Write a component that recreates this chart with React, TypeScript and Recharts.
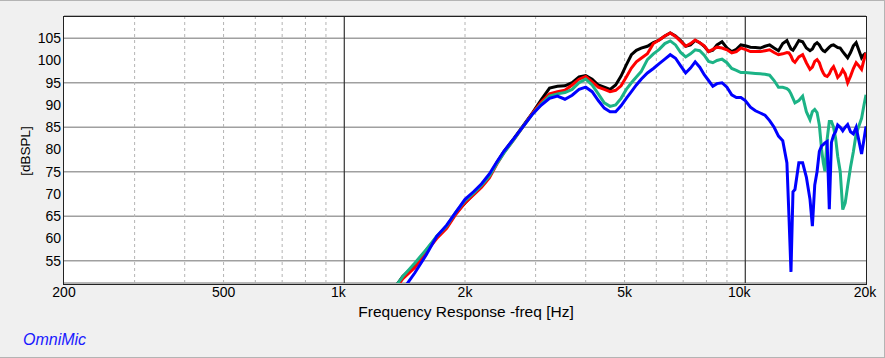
import React from "react";
import { LineChart, Line, XAxis, YAxis, CartesianGrid, ReferenceLine } from "recharts";

// frequency grid (Hz) shared by all four curves
const freqs = [
  1300, 1400, 1500, 1600, 1700, 1800, 1900, 2000, 2100, 2200, 2300, 2400, 2500,
  2650, 2800, 2950, 3100, 3250, 3400, 3550, 3700, 3850, 4000, 4150, 4300, 4450, 4600, 4750, 4900, 5050, 5200, 5350, 5500,
  5700, 5900, 6100, 6300, 6500, 6700, 6900, 7100, 7300, 7500, 7700, 7900, 8100, 8300, 8500,
  8750, 9000, 9250, 9500, 9750, 10000,
  10300, 10600, 10900, 11200, 11500, 11800, 12100, 12400, 12700,
  12850, 13000, 13150, 13300,
  13600, 13900, 14200, 14500,
  14700, 14900, 15100, 15300, 15500,
  15650, 15800, 16000, 16200, 16400, 16600, 16800, 17000,
  17250, 17500, 17750, 18000,
  18300, 18600, 18900, 19200, 19500, 19750, 20000,
];

const blackDb = [
  47.5, 51.5, 54, 57.3, 60.3, 62.5, 65.8, 68, 70, 71.8, 74, 77, 79.5,
  82.5, 85.5, 88.3, 91.2, 93.8, 94.2, 94.3, 95, 96.3, 96.6, 95.8, 94.5, 94, 93.5, 94.5, 96.5, 99, 101.3, 102.3, 102.8,
  103.2, 104, 104.6, 105.5, 106.2, 105.5, 104.5, 103.2, 103.5, 104.5, 104, 103.2, 102, 102.3, 103.5,
  104.2, 102.8, 102, 102.5, 103.5, 103.3,
  103, 102.9, 102.8, 103.2, 103.5, 102.8, 102.2, 103.8, 104.5,
  103.5, 102.6, 102.3, 103,
  104.5, 104.2, 102.8, 102.2,
  102.6, 103.6, 104, 103.5, 102.6,
  102.2, 102, 102.5, 103, 103.4, 103.5, 103.2, 102.9,
  102.8, 102, 101.3, 100.6,
  101.8, 103.3, 104, 102.3, 100.6, 101.3, 101.7,
];

const redDb = [
  47, 51, 53.5, 57, 60, 62.3, 65.5, 68, 69.8, 71.5, 73.6, 76.7, 79.3,
  82.3, 85.3, 88.2, 90.7, 92.5, 93, 93.3, 94.5, 95.8, 96.4, 95.2, 94, 93.5, 93, 93.3, 94.3, 96.3, 98.3, 99.7, 100.5,
  101.5, 103.8, 104.6, 105.5, 106.2, 105.4, 104.3, 103.2, 103.8, 104.6, 104, 103.3, 102, 102.5, 103,
  102.8, 102.4, 101.7, 102, 102.8, 102.5,
  102, 102, 102, 102.2, 102.4, 101.8, 101.3, 101.5, 101.8,
  101.7, 101, 100, 99.6,
  100.8, 101.3, 99.5, 98,
  98.5, 99.8, 100.2, 99.5, 98,
  97.2, 96.6, 96.4, 97, 98, 98.6, 97.5, 96.2,
  96.8, 97.9, 97, 95,
  96.5, 98.2, 99.5, 98.8, 98, 100, 101.7,
];

const greenDb = [
  47.5, 51.5, 54.5, 57.5, 60.5, 62.8, 66, 68.5, 70.2, 72, 74, 76.8, 79.2,
  82.3, 85.3, 88, 90.2, 92, 92.5, 92.8, 93.5, 95, 95.8, 94.5, 92.5, 90.5, 89.7, 90, 91.5, 93.5, 95, 96.3, 97.5,
  100.2, 101.5, 102.5, 103.8, 104.4, 103.5, 101.8, 100.8, 101.5, 102.4, 102.2, 101.2, 99.8, 99.5, 100,
  100.3, 99.5, 98.2, 97.8, 97.3, 97.3,
  97.2, 97.1, 97, 96.9, 96.7, 95.5, 94, 94, 93.7,
  93.3, 92.5, 91.5, 90.5,
  91, 92, 88.5, 86.7,
  88.5, 89, 88.3, 85.5, 80,
  77, 75.1, 82.3, 86.3, 86.3, 85, 82.5, 78.5,
  75, 66.5, 68, 71.8,
  76, 79.5, 83.5, 85.3, 87, 89.8, 92.3,
];

const blueDb = [
  45, 48.5, 52.3, 56.3, 60.5, 63, 66, 68.8, 70.5, 72.3, 74.5, 77.2, 79.6,
  82.5, 85.3, 88, 90, 91.5, 92, 91.3, 92.2, 93.5, 94, 93, 91, 89.3, 88.5, 88.5, 89.8, 91.5, 93, 94.5, 95.8,
  97.2, 98.2, 99.3, 100.3, 101.3, 100.5, 98.8, 97.2, 98.3, 99.7, 98.5, 96.8, 95.5, 94.2, 94.8,
  95, 94, 92.3, 91.7, 91.7, 91,
  89.5, 88.7, 88.2, 87.7, 86.5, 85, 83, 82, 77,
  65, 52.5, 70.5, 71,
  77, 77, 73.8, 68.8,
  62.8, 72, 75, 79.6, 80.8,
  81.1, 81.5, 81.8, 66.6, 81.6, 83.2, 84, 85.5,
  85, 84.2, 85, 85.6,
  84, 83.5, 85, 82, 79, 82, 85.2,
];

const xTicks = [200, 500, 1000, 2000, 5000, 10000, 20000];
const yTicks = [55, 60, 65, 70, 75, 80, 85, 90, 95, 100, 105];
const minorFreqs = [300, 400, 500, 600, 700, 800, 900, 2000, 3000, 4000, 5000, 6000, 7000, 8000, 9000];
const majorFreqs = [1000, 10000];

const data = freqs.map((f, i) => ({
  f,
  black: blackDb[i],
  red: redDb[i],
  green: greenDb[i],
  blue: blueDb[i],
}));

const fmtFreq = (v: number) => (v >= 1000 ? `${v / 1000}k` : `${v}`);

function FreqTick(props: any) {
  const { x, y, payload } = props;
  const shift = payload.value === 1000 || payload.value === 10000 ? -6 : 0;
  return (
    <text x={x + shift} y={y + 14} textAnchor="middle" fill="#000" fontSize={14}>
      {fmtFreq(payload.value)}
    </text>
  );
}

export default function App() {
  return (
    <div
      style={{
        position: "absolute",
        left: 0,
        top: 0,
        width: 885,
        height: 358,
        background: "#f0f0f0",
        fontFamily: "'Liberation Sans', Arial, sans-serif",
        boxSizing: "border-box",
        borderTop: "1px solid #b4b4b4",
        borderBottom: "1px solid #b4b4b4",
        borderRight: "1px solid #b4b4b4",
      }}
    >
      <div style={{ position: "absolute", left: 0, top: -1 }}>
        <LineChart width={885} height={358} data={data} margin={{ top: 16, right: 19, left: 0, bottom: 0 }}>
          <CartesianGrid vertical={false} fill="#fff" stroke="#a0a0a0" strokeWidth={1.5} />
          {minorFreqs.map((f) => (
            <ReferenceLine key={f} x={f} stroke="#b4b4b4" strokeDasharray="3 3" />
          ))}
          {majorFreqs.map((f) => (
            <ReferenceLine key={f} x={f} stroke="#333" strokeWidth={1.2} />
          ))}
          <XAxis
            dataKey="f"
            type="number"
            scale="log"
            domain={[200, 20000]}
            ticks={xTicks}
            allowDataOverflow
            axisLine={false}
            tickLine={false}
            tickSize={0}
            tickMargin={0}
            height={75}
            tick={<FreqTick />}
          />
          <YAxis
            type="number"
            domain={[50, 110]}
            ticks={yTicks}
            allowDataOverflow
            axisLine={false}
            tickLine={false}
            tickSize={0}
            tickMargin={3}
            width={64}
            tick={{ fill: "#000", fontSize: 14 }}
          />
          <Line type="linear" dataKey="black" stroke="#000" strokeWidth={3} dot={false} isAnimationActive={false} />
          <Line type="linear" dataKey="red" stroke="#ff0000" strokeWidth={3} dot={false} isAnimationActive={false} />
          <Line type="linear" dataKey="green" stroke="#1cb386" strokeWidth={3} dot={false} isAnimationActive={false} />
          <Line type="linear" dataKey="blue" stroke="#0000ff" strokeWidth={3} dot={false} isAnimationActive={false} />
        </LineChart>
      </div>
      {/* plot frame */}
      <div
        style={{
          position: "absolute",
          left: 63,
          top: 15,
          width: 804,
          height: 269,
          border: "1.5px solid #222",
          boxSizing: "border-box",
          pointerEvents: "none",
        }}
      />
      <div
        style={{
          position: "absolute",
          left: 466,
          top: 302,
          transform: "translateX(-50%)",
          fontSize: 15.5,
          whiteSpace: "nowrap",
          color: "#000",
        }}
      >
        Frequency Response -freq [Hz]
      </div>
      <div
        style={{
          position: "absolute",
          left: 25,
          top: 150,
          transform: "translate(-50%, -50%) rotate(-90deg)",
          fontSize: 13.5,
          whiteSpace: "nowrap",
          color: "#000",
        }}
      >
        [dBSPL]
      </div>
      <div
        style={{
          position: "absolute",
          left: 23,
          top: 330,
          fontSize: 16,
          fontStyle: "italic",
          color: "#1a1aff",
          whiteSpace: "nowrap",
        }}
      >
        OmniMic
      </div>
    </div>
  );
}
